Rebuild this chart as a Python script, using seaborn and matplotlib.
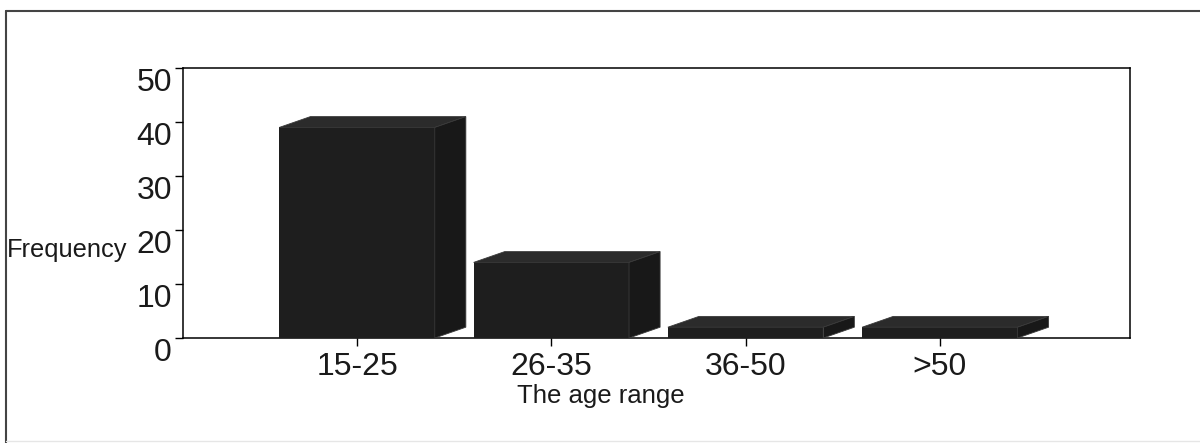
import matplotlib
matplotlib.use("Agg")
import matplotlib.pyplot as plt
import seaborn as sns
from matplotlib.patches import Polygon
from matplotlib.lines import Line2D

# --- data ---
age_ranges = ['15-25', '26-35', '36-50', '>50']
frequency = [39, 14, 2, 2]
y_ticks = [0, 10, 20, 30, 40, 50]

# --- style ---
sns.set_style("ticks")
plt.rcParams['font.family'] = ['Liberation Sans', 'DejaVu Sans']

FRONT = '#1e1e1e'
TOP = '#2b2b2b'
SIDE = '#181818'
DEPTH_X = 0.16   # data units along x
DEPTH_Y = 2.0    # data units along y

fig = plt.figure(figsize=(12, 4.43), dpi=100)
ax = fig.add_axes([0.1525, 0.237, 0.789, 0.6095])

sns.barplot(x=age_ranges, y=frequency, color=FRONT, saturation=1,
            width=0.8, edgecolor='none', ax=ax, zorder=3)

# fake 3D: top and side faces built from each bar patch
for p in list(ax.patches):
    x0, w, h = p.get_x(), p.get_width(), p.get_height()
    top = Polygon([(x0, h), (x0 + DEPTH_X, h + DEPTH_Y),
                   (x0 + w + DEPTH_X, h + DEPTH_Y), (x0 + w, h)],
                  closed=True, fc=TOP, ec='#3a3a3a', lw=0.6, zorder=3)
    side = Polygon([(x0 + w, 0), (x0 + w + DEPTH_X, DEPTH_Y),
                    (x0 + w + DEPTH_X, h + DEPTH_Y), (x0 + w, h)],
                   closed=True, fc=SIDE, ec='#3a3a3a', lw=0.6, zorder=3)
    ax.add_patch(top)
    ax.add_patch(side)

ax.set_xlim(-0.896, 3.978)
ax.set_ylim(0, 50)
ax.set_yticks(y_ticks)
ax.set_yticklabels([str(v) for v in y_ticks])
for lab in ax.get_yticklabels():
    lab.set_va('top')

ax.tick_params(axis='y', direction='out', length=6, width=1, pad=2,
               labelsize=23, colors='black', labelcolor='#1a1a1a')
ax.tick_params(axis='x', direction='out', length=6, width=1, pad=4,
               labelsize=23, colors='black', labelcolor='#1a1a1a')

for s in ax.spines.values():
    s.set_visible(True)
    s.set_color('black')
    s.set_linewidth(1.1)

ax.set_xlabel('The age range', fontsize=18.5, color='#1a1a1a')
ax.xaxis.set_label_coords(0.441, -0.17)
ax.set_ylabel('Frequency', fontsize=18.3, rotation=0, ha='left', va='center',
              color='#1a1a1a')
ax.yaxis.set_label_coords(-0.186, 0.326)

# outer frame (left and top edges of the scanned box)
fig.add_artist(Line2D([6 / 1200, 6 / 1200], [0.0, 1 - 11 / 443],
                      transform=fig.transFigure, color='#444444', lw=1.5))
fig.add_artist(Line2D([6 / 1200, 1.0], [1 - 11 / 443, 1 - 11 / 443],
                      transform=fig.transFigure, color='#444444', lw=1.5))
fig.add_artist(Line2D([6 / 1200, 1.0], [2 / 443, 2 / 443],
                      transform=fig.transFigure, color='#e6e6e6', lw=1.0))

fig.savefig('out.png', dpi=100, facecolor='white')
